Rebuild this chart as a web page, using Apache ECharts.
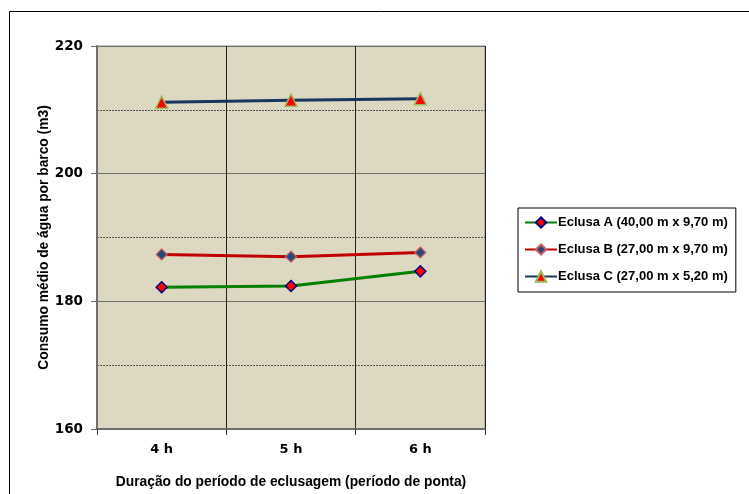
<!DOCTYPE html>
<html>
<head>
<meta charset="utf-8">
<script src="https://cdn.jsdelivr.net/npm/echarts@6/dist/echarts.min.js"></script>
<style>
  html, body { margin: 0; padding: 0; background: #fff; }
  #m1 { width: 749px; height: 494px; }
</style>
</head>
<body>
<div id="m1"></div>
<script>
// dados
var categorias = ['4 h', '5 h', '6 h'];
var eclusaA = [182.2, 182.4, 184.7];
var eclusaB = [187.35, 187.0, 187.65];
var eclusaC = [211.2, 211.5, 211.75];
var nomes = ['Eclusa A (40,00 m x 9,70 m)', 'Eclusa B (27,00 m x 9,70 m)', 'Eclusa C (27,00 m x 5,20 m)'];

var fonte = "'Liberation Sans', Arial, sans-serif";
var fonteEixo = "'DejaVu Sans', sans-serif";

var myChart = echarts.init(document.getElementById('m1'));

var option = {
  animation: false,
  textStyle: { fontFamily: fonte },
  graphic: [{
    type: 'rect',
    shape: { x: 9.5, y: 11.5, width: 760, height: 500 },
    style: { fill: 'none', stroke: '#000', lineWidth: 1 },
    z: -1
  }],
  grid: {
    left: 97, right: 264, top: 46, bottom: 61,
    show: true,
    backgroundColor: '#DDD8C2',
    borderColor: '#8a8a8a',
    borderWidth: 1
  },
  legend: {
    orient: 'vertical',
    left: 518, top: 208,
    backgroundColor: '#fff',
    borderColor: '#000',
    borderWidth: 1,
    padding: [8, 8, 9, 6],
    itemGap: 14,
    itemWidth: 32,
    itemHeight: 13,
    textStyle: { fontFamily: fonte, fontWeight: 'bold', fontSize: 13, color: '#000', padding: [0, 0, 0, -4] },
    data: nomes
  },
  xAxis: {
    type: 'category',
    data: categorias,
    boundaryGap: true,
    axisLine: { lineStyle: { color: '#6e6e6e', width: 2 } },
    axisTick: { show: true, length: 6, lineStyle: { color: '#333' } },
    axisLabel: { fontFamily: fonteEixo, fontWeight: 'bold', fontSize: 13, color: '#000', margin: 14 },
    splitLine: { show: true, lineStyle: { color: '#222', width: 1 } },
    name: 'Duração do período de eclusagem (período de ponta)',
    nameLocation: 'middle',
    nameGap: 46,
    nameMoveOverlap: false,
    nameTextStyle: { fontFamily: fonte, fontWeight: 'bold', fontSize: 13.8, color: '#000' }
  },
  yAxis: {
    type: 'value',
    min: 160, max: 220, interval: 20,
    axisLine: { show: true, lineStyle: { color: '#6e6e6e', width: 2 } },
    axisTick: { show: true, length: 6, lineStyle: { color: '#6e6e6e' } },
    axisLabel: { fontFamily: fonteEixo, fontWeight: 'bold', fontSize: 13.5, color: '#000', margin: 14 },
    splitLine: { show: true, lineStyle: { color: '#6e6e6e', width: 1 } },
    minorTick: { show: false, splitNumber: 2 },
    minorSplitLine: { show: true, lineStyle: { color: '#555', type: [2, 1], width: 1 } },
    name: 'Consumo médio de água por barco (m3)',
    nameLocation: 'middle',
    nameGap: 46,
    nameMoveOverlap: false,
    nameTextStyle: { fontFamily: fonte, fontWeight: 'bold', fontSize: 13.8, color: '#000' }
  },
  series: [
    {
      name: nomes[0], type: 'line', data: eclusaA,
      lineStyle: { color: '#008000', width: 3 },
      itemStyle: { color: '#FF0000', borderColor: '#000080', borderWidth: 1.5 },
      symbol: 'diamond', symbolSize: 11
    },
    {
      name: nomes[1], type: 'line', data: eclusaB,
      lineStyle: { color: '#C00000', width: 3 },
      itemStyle: { color: '#244A7C', borderColor: '#D06060', borderWidth: 1.2 },
      symbol: 'diamond', symbolSize: 11
    },
    {
      name: nomes[2], type: 'line', data: eclusaC,
      lineStyle: { color: '#17375E', width: 3 },
      itemStyle: { color: '#FF0000', borderColor: '#9BBB59', borderWidth: 1.5 },
      symbol: 'triangle', symbolSize: 12
    }
  ]
};

myChart.setOption(option);
window.addEventListener('resize', function () {
  myChart.resize();
});
</script>
</body>
</html>
